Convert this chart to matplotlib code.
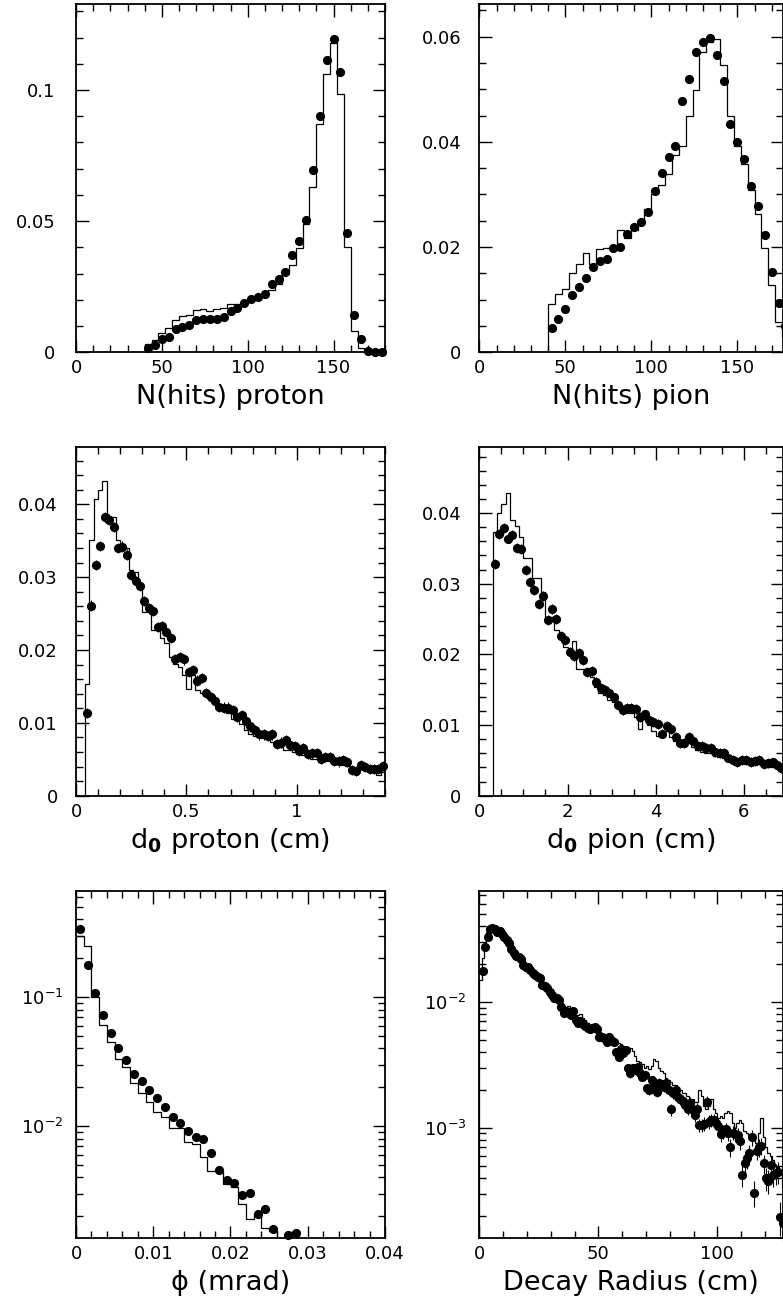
import numpy as np
import matplotlib
matplotlib.use('Agg')
import matplotlib.pyplot as plt
from matplotlib.ticker import MultipleLocator, FuncFormatter, LogLocator, NullFormatter

plt.rcParams['font.family'] = ['DejaVu Sans']
plt.rcParams['mathtext.fontset'] = 'dejavusans'

# ---------------- data ----------------
# Panel 1: N(hits) proton, bins of 4 from 40 to 180
nhp_edges = np.arange(40, 181, 4)
nhp_mc = [0.0033, 0.0046, 0.0075, 0.0091, 0.0123, 0.0138, 0.0141, 0.0161, 0.0166, 0.0159,
          0.0165, 0.0168, 0.0184, 0.0183, 0.0190, 0.0200, 0.0212, 0.0220, 0.0236, 0.0262,
          0.0298, 0.0333, 0.0396, 0.0489, 0.0630, 0.0869, 0.1061, 0.1178, 0.0986, 0.0400,
          0.0081, 0.0015, 0.0003, 0.0, 0.0]
nhp_data = [0.00165, 0.0028, 0.0050, 0.0057, 0.0088, 0.0095, 0.0104, 0.0123, 0.0128, 0.0126,
            0.0126, 0.0136, 0.0156, 0.0168, 0.0187, 0.0203, 0.0212, 0.0221, 0.0260, 0.0281,
            0.0308, 0.0371, 0.0426, 0.0504, 0.0694, 0.0900, 0.1113, 0.1194, 0.1070, 0.0454,
            0.0142, 0.0051, 0.0004, 0.0003, 0.0002]

# Panel 2: N(hits) pion
nhpi_edges = np.arange(40, 181, 4)
nhpi_mc = [0.0091, 0.0111, 0.0120, 0.0150, 0.0167, 0.0188, 0.0168, 0.0196, 0.0198, 0.0200,
           0.0233, 0.0217, 0.0233, 0.0250, 0.0273, 0.0300, 0.0318, 0.0338, 0.0375, 0.0392,
           0.0450, 0.0499, 0.0571, 0.0589, 0.0595, 0.0547, 0.0450, 0.0392, 0.0358, 0.0309,
           0.0262, 0.0198, 0.0127, 0.0058, 0.0030]
nhpi_data = [0.00463, 0.0063, 0.0082, 0.0108, 0.0124, 0.0141, 0.0163, 0.0174, 0.0178, 0.0198,
             0.0200, 0.0224, 0.0239, 0.0248, 0.0267, 0.0307, 0.0340, 0.0371, 0.0393, 0.0478,
             0.0519, 0.0571, 0.0589, 0.0597, 0.0565, 0.0515, 0.0434, 0.0399, 0.0368, 0.0317,
             0.0279, 0.0222, 0.0152, 0.0093, 0.0050]

# Panel 3: d0 proton, bins of 0.02 from 0 to 1.4
d0p_edges = np.linspace(0, 1.4, 71)
d0p_mc = [0.0, 0.0,
          0.0153, 0.0351, 0.0407, 0.0419, 0.0432, 0.0384, 0.0383, 0.0351, 0.0346, 0.0340,
          0.0310, 0.0307, 0.0286, 0.0252, 0.0252, 0.0228, 0.0228, 0.0217, 0.0209, 0.0190,
          0.0181, 0.0177, 0.0165, 0.0146, 0.0165, 0.0145, 0.0141, 0.0139, 0.0136, 0.0127,
          0.0123, 0.0117, 0.0114, 0.0105, 0.0109, 0.0099, 0.0090, 0.0084, 0.0082, 0.0081,
          0.0079, 0.0079, 0.0074, 0.0069, 0.0067, 0.0063, 0.0063, 0.0060, 0.0058, 0.0056,
          0.0053, 0.0051, 0.0051, 0.0049, 0.0047, 0.0047, 0.0044, 0.0043, 0.0042, 0.0041,
          0.0040, 0.0038, 0.0037, 0.0035, 0.0036, 0.0034, 0.0028, 0.0033]
d0p_data = [np.nan, np.nan,
            0.0114, 0.0261, 0.0317, 0.0343, 0.0383, 0.0379, 0.0369, 0.0340, 0.0342, 0.0331,
            0.0303, 0.0295, 0.0288, 0.0267, 0.0257, 0.0254, 0.0232, 0.0233, 0.0225, 0.0216,
            0.0188, 0.0190, 0.0187, 0.0170, 0.0172, 0.0158, 0.0161, 0.0141, 0.0136, 0.0130,
            0.0122, 0.0121, 0.0121, 0.0117, 0.0108, 0.0111, 0.0103, 0.0095, 0.0090, 0.0084,
            0.0084, 0.0082, 0.0084, 0.0071, 0.0073, 0.0076, 0.0070, 0.0068, 0.0062, 0.0066,
            0.0057, 0.0058, 0.0059, 0.0050, 0.0053, 0.0053, 0.0048, 0.0047, 0.0049, 0.0046,
            0.0035, 0.0034, 0.0042, 0.0039, 0.0037, 0.0037, 0.0037, 0.0041]

# Panel 4: d0 pion, bins of 0.1 from 0 to 7
d0pi_edges = np.linspace(0, 7, 71)
d0pi_mc = [0.0, 0.0, 0.0,
           0.0373, 0.0400, 0.0413, 0.0429, 0.0390, 0.0382, 0.0366, 0.0336, 0.0336, 0.0308,
           0.0308, 0.0288, 0.0253, 0.0253, 0.0235, 0.0225, 0.0211, 0.0206, 0.0219, 0.0179,
           0.0179, 0.0177, 0.0168, 0.0154, 0.0145, 0.0142, 0.0136, 0.0133, 0.0126, 0.0117,
           0.0117, 0.0117, 0.0112, 0.0095, 0.0108, 0.0100, 0.0091, 0.0084, 0.0083, 0.0092,
           0.0083, 0.0078, 0.0072, 0.0070, 0.0075, 0.0069, 0.0065, 0.0062, 0.0060, 0.0061,
           0.0056, 0.0055, 0.0053, 0.0051, 0.0050, 0.0047, 0.0046, 0.0045, 0.0045, 0.0043,
           0.0046, 0.0042, 0.0041, 0.0041, 0.0040, 0.0036, 0.0036]
d0pi_data = [np.nan, np.nan, np.nan,
             0.0328, 0.0370, 0.0379, 0.0364, 0.0369, 0.0351, 0.0349, 0.0319, 0.0302, 0.0291,
             0.0271, 0.0283, 0.0249, 0.0264, 0.0250, 0.0226, 0.0220, 0.0204, 0.0198, 0.0202,
             0.0192, 0.0175, 0.0177, 0.0161, 0.0152, 0.0149, 0.0146, 0.0139, 0.0129, 0.0121,
             0.0124, 0.0124, 0.0123, 0.0111, 0.0115, 0.0107, 0.0104, 0.0102, 0.0088, 0.0099,
             0.0095, 0.0083, 0.0074, 0.0074, 0.0083, 0.0078, 0.0070, 0.0070, 0.0067, 0.0068,
             0.0062, 0.0060, 0.0060, 0.0054, 0.0051, 0.0048, 0.0050, 0.0050, 0.0048, 0.0049,
             0.0051, 0.0045, 0.0046, 0.0047, 0.0043, 0.0039, np.nan]

# Panel 5: phi (mrad), bins of 0.001 from 0 to 0.04
phi_edges = np.linspace(0, 0.04, 41)
phi_mc = [0.299, 0.250, 0.1006, 0.0607, 0.0445, 0.0329, 0.0285, 0.0217, 0.0179, 0.0153,
          0.0129, 0.0117, 0.0096, 0.0096, 0.00757, 0.00722, 0.00578, 0.00450, 0.00450, 0.00355,
          0.00335, 0.00251, 0.00192, 0.00210, 0.00161, 0.00155, 0.0, 0.0, 0.0, 0.0,
          0.0, 0.0, 0.0, 0.0, 0.0, 0.0, 0.0, 0.0, 0.0, 0.0]
phi_data = [0.336, 0.177, 0.107, 0.0725, 0.0529, 0.0405, 0.0325, 0.0253, 0.0223, 0.0190,
            0.0166, 0.0140, 0.0118, 0.0105, 0.0092, 0.00817, 0.00788, 0.00614, 0.00459, 0.00381,
            0.00364, 0.00294, 0.00304, 0.00210, 0.00227, 0.00158, np.nan, 0.00143, 0.00148, np.nan,
            np.nan, np.nan, np.nan, np.nan, np.nan, np.nan, np.nan, np.nan, np.nan, np.nan]

# Panel 6: decay radius (cm), bins of 1 cm from 0 to 130
dr_edges = np.arange(0, 131, 1)
dr_mc = [0.0149, 0.0221, 0.0300, 0.0355, 0.0390, 0.0392, 0.0385, 0.0372, 0.0360, 0.0345,
         0.0330, 0.0312, 0.0296, 0.0275, 0.0258, 0.0242, 0.0230, 0.0218, 0.0205, 0.0195,
         0.0186, 0.0177, 0.0168, 0.0161, 0.0154, 0.0146, 0.0139, 0.0133, 0.0127, 0.0121,
         0.0116, 0.0111, 0.0107, 0.0104, 0.0097, 0.0093, 0.0089, 0.0092, 0.0086, 0.0082,
         0.0079, 0.0078, 0.0080, 0.0074, 0.0071, 0.0068, 0.0065, 0.0064, 0.0062, 0.0060,
         0.0057, 0.0055, 0.0054, 0.0053, 0.0051, 0.0052, 0.0048, 0.0046, 0.0047, 0.0046,
         0.0044, 0.0042, 0.0040, 0.0043, 0.0041, 0.0037, 0.0034, 0.0033, 0.0032, 0.0030,
         0.0031, 0.0029, 0.0031, 0.0035, 0.0034, 0.0030, 0.0028, 0.0027, 0.0025, 0.0024,
         0.0023, 0.0022, 0.0022, 0.0021, 0.0020, 0.0019, 0.0019, 0.0018, 0.0017, 0.0017,
         0.0016, 0.0016, 0.0020, 0.0018, 0.0015, 0.0014, 0.0015, 0.0017, 0.0014, 0.0013,
         0.0012, 0.00125, 0.0012, 0.0013, 0.00135, 0.0013, 0.0011, 0.0010, 0.0011, 0.00115,
         0.0011, 0.00095, 0.0009, 0.00088, 0.00085, 0.0008, 0.00075, 0.0009, 0.0012, 0.00085,
         0.0007, 0.00063, 0.0006, 0.00055, 0.0005, 0.00049, 0.00045, 0.00034, 0.0004, 0.0004]
dr_data = [np.nan,
           0.0175, 0.0274, 0.0328, 0.0375, 0.0382, 0.0378, 0.0360, 0.0366, 0.0344, 0.0324,
           0.0308, 0.0294, 0.0260, 0.0242, 0.0232, 0.0228, 0.0218, 0.0195, 0.0190, 0.0190,
           0.0178, 0.0168, 0.0163, 0.0158, 0.0153, 0.0136, 0.0133, 0.0128, 0.0120, 0.0114,
           0.0108, 0.0108, 0.0103, 0.00912, 0.00808, 0.00849, 0.00808, 0.00784, 0.00849, 0.00715,
           0.00673, 0.00703, 0.00661, 0.00641, 0.00614, 0.00603, 0.00622, 0.00634, 0.00611, 0.00527,
           0.00521, 0.00512, 0.00482, 0.00527, 0.00497, 0.00482, 0.00401, 0.00366, 0.00419, 0.00394,
           0.00413, 0.00296, 0.00270, 0.00296, 0.00287, 0.00305, 0.00270, 0.00254, 0.00262, 0.00205,
           0.00199, 0.00239, 0.00222, 0.00193, 0.00228, 0.00222, 0.00211, 0.00225, 0.00199, 0.00140,
           0.00187, 0.00199, 0.00174, 0.00168, 0.00164, 0.00151, 0.00142, 0.00158, 0.00142, 0.00126,
           0.00142, 0.00105, 0.00105, 0.00108, 0.00161, 0.00112, 0.00115, 0.00115, 0.00110, 0.00103,
           0.000891, 0.000929, 0.000970, 0.000902, 0.000698, 0.000912, 0.000891, 0.000875, 0.000789, 0.000421,
           0.000527, 0.000571, 0.000625, 0.000838, 0.000305, 0.000656, 0.000698, 0.000715, 0.000521, 0.000396,
           0.000379, 0.000506, 0.000421, 0.000434, 0.000448, 0.000197, 0.000174,
           np.nan, np.nan]
dr_err_tail = [0.00022, 0.00021, 0.00022, 0.00022, 0.00023, 0.00021, 0.00021, 0.00021, 0.00019,
               0.00018, 0.00020, 0.00019, 0.00018, 0.00020, 0.00019, 0.00019, 0.00019, 0.00018, 0.00015,
               0.00018, 0.00018, 0.00017, 0.00017, 0.00017, 0.00016, 0.00015, 0.00016, 0.00015, 0.00015,
               0.00015, 0.00013, 0.00013, 0.00013, 0.00016, 0.00014, 0.00014, 0.00014, 0.00014, 0.00013,
               0.00012, 0.00012, 0.00013, 0.00012, 0.00011, 0.00012, 0.00012, 0.00012, 0.00012, 0.00008,
               0.00009, 0.00010, 0.00010, 0.00012, 0.00007, 0.00010, 0.00011, 0.00011, 0.00009, 0.00008,
               0.00008, 0.00009, 0.00008, 0.00008, 0.00009, 0.00006, 0.00005]
dr_err = [0.0] * 62 + dr_err_tail + [0.0, 0.0]

xlabels = ['N(hits) proton', 'N(hits) pion',
           r'd$_{\mathbf{0}}$ proton (cm)', r'd$_{\mathbf{0}}$ pion (cm)',
           'ϕ (mrad)', 'Decay Radius (cm)']

# ---------------- layout ----------------
W, H = 783.0, 1308.0
fig = plt.figure(figsize=(W / 100, H / 100), dpi=100)

cols = [(76.0, 385.0), (479.3, 782.5)]
rows = [(4.0, 352.3), (446.7, 795.7), (891.0, 1238.3)]


def add_ax(c, r):
    x0, x1 = cols[c]
    y0, y1 = rows[r]
    return fig.add_axes([x0 / W, 1 - y1 / H, (x1 - x0) / W, (y1 - y0) / H])


fmt_lin = FuncFormatter(lambda v, p: '%g' % round(v, 6))
fmt_log = FuncFormatter(lambda v, p: r'$\mathregular{10^{%d}}$' % int(round(np.log10(v))))


def style(ax, xmaj, xmin, ymaj=None, ymin=None, log=False, ypad=14):
    for s in ax.spines.values():
        s.set_linewidth(1.3)
    ax.tick_params(which='both', direction='in', top=True, right=True, width=1.0,
                   colors='black', labelsize=13)
    ax.tick_params(which='major', length=9)
    ax.tick_params(which='minor', length=5)
    ax.tick_params(axis='x', which='both', pad=5)
    ax.tick_params(axis='y', which='both', pad=ypad)
    ax.xaxis.set_major_locator(MultipleLocator(xmaj))
    ax.xaxis.set_minor_locator(MultipleLocator(xmin))
    ax.xaxis.set_major_formatter(fmt_lin)
    if log:
        ax.set_yscale('log')
        ax.yaxis.set_major_locator(LogLocator(base=10, numticks=20))
        ax.yaxis.set_minor_locator(LogLocator(base=10, subs=np.arange(2, 10), numticks=20))
        ax.yaxis.set_major_formatter(fmt_log)
        ax.yaxis.set_minor_formatter(NullFormatter())
    else:
        ax.yaxis.set_major_locator(MultipleLocator(ymaj))
        ax.yaxis.set_minor_locator(MultipleLocator(ymin))
        ax.yaxis.set_major_formatter(fmt_lin)


def draw(ax, edges, mc, data, yerr=None, baseline=0.0):
    edges = np.asarray(edges, dtype=float)
    ax.stairs(mc, edges, baseline=baseline, color='black', lw=0.9, zorder=2)
    centers = 0.5 * (edges[:-1] + edges[1:])
    cont = ax.errorbar(centers, data, yerr=yerr, fmt='o', color='black', ms=5.6,
                       elinewidth=0.8, capsize=0, zorder=3)
    for a in cont.get_children():
        a.set_clip_on(False)


def label(ax, text):
    ax.set_xlabel(text, fontsize=19.5, va='center')
    h = ax.get_position().height * H
    ax.xaxis.set_label_coords(0.5, -45.0 / h)


# Panel 1
ax1 = add_ax(0, 0)
draw(ax1, nhp_edges, nhp_mc, nhp_data)
ax1.set_xlim(0, 180)
ax1.set_ylim(0, 0.1328)
style(ax1, 50, 10, 0.05, 0.01, ypad=15)
label(ax1, xlabels[0])

# Panel 2
ax2 = add_ax(1, 0)
draw(ax2, nhpi_edges, nhpi_mc, nhpi_data)
ax2.set_xlim(0, (782.5 - 479.3) / 1.72)
ax2.set_ylim(0, 0.0662)
style(ax2, 50, 10, 0.02, 0.005, ypad=13)
label(ax2, xlabels[1])

# Panel 3
ax3 = add_ax(0, 1)
draw(ax3, d0p_edges, d0p_mc, d0p_data, yerr=0.0007)
ax3.set_xlim(0, 1.4)
ax3.set_ylim(0, 0.0479)
style(ax3, 0.5, 0.1, 0.01, 0.002, ypad=13)
label(ax3, xlabels[2])

# Panel 4
ax4 = add_ax(1, 1)
draw(ax4, d0pi_edges, d0pi_mc, d0pi_data, yerr=0.0007)
ax4.set_xlim(0, (782.5 - 479.3) / 44.1)
ax4.set_ylim(0, 0.0494)
style(ax4, 2, 0.5, 0.01, 0.002, ypad=13)
label(ax4, xlabels[3])

# Panel 5
ax5 = add_ax(0, 2)
draw(ax5, phi_edges, phi_mc, phi_data, baseline=1e-6)
ax5.set_xlim(0, 0.04)
ax5.set_ylim(1.35e-3, 0.664)
style(ax5, 0.01, 0.002, log=True, ypad=9)
label(ax5, xlabels[4])

# Panel 6
ax6 = add_ax(1, 2)
draw(ax6, dr_edges, dr_mc, dr_data, yerr=dr_err, baseline=1e-7)
ax6.set_xlim(0, (782.5 - 479.3) / 2.38)
ax6.set_ylim(1.325e-4, 0.0757)
style(ax6, 50, 10, log=True, ypad=9)
label(ax6, xlabels[5])

fig.savefig('out.png', dpi=100)
